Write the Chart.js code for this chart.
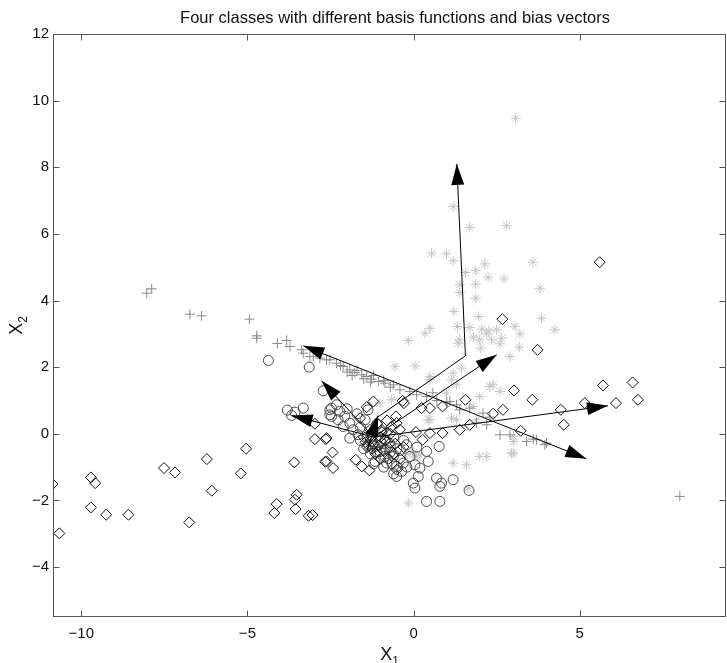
<!DOCTYPE html>
<html lang="en">
<head>
<meta charset="UTF-8">
<title>Four classes with different basis functions and bias vectors</title>
<script src="https://cdn.jsdelivr.net/npm/chart.js@4"></script>
<style>
  body, html { margin: 0; padding: 0; background: #fff; }
  .wrap { width: 727px; height: 663px; }
</style>
</head>
<body>
<div class="wrap"><canvas id="chart" width="727" height="663"></canvas></div>
<script>
const titleText = 'Four classes with different basis functions and bias vectors';
const xTicks = [-10, -5, 0, 5];
const yTicks = [-4, -2, 0, 2, 4, 6, 8, 10, 12];

// class 1: open circles
const circlePts = [
  [-4.37,2.2],[-3.14,2.0],[-2.72,1.29],[-3.8,0.71],[-3.67,0.55],[-3.57,0.65],[-3.32,0.77],
  [-2.52,0.72],[-2.52,0.57],[-2.47,0.77],[-2.32,0.87],[-2.22,0.67],[-2.47,0.52],[-2.27,0.42],
  [-2.07,0.52],[-1.92,0.32],[-2.12,0.22],[-1.82,0.12],[-1.67,-0.03],[-1.92,-0.13],[-1.46,0.42],
  [-1.37,0.72],[-1.26,-0.23],[-1.16,-0.38],[-1.01,-0.53],[-0.86,-0.68],[-0.81,-0.88],[-1.16,-0.83],
  [-0.61,-0.68],[-0.51,-0.98],[-0.36,-1.13],[-0.51,-1.28],[-0.31,-0.88],[-0.11,-0.68],[0.04,-0.93],
  [0.14,-1.28],[-0.01,-1.48],[0.04,-1.63],[0.19,-1.03],[0.39,-0.53],[0.44,-0.83],[0.77,-0.38],
  [0.69,-1.33],[0.84,-1.48],[0.79,-1.58],[1.19,-1.38],[1.67,-1.7],[0.39,-2.03],[0.79,-2.03],
  [-0.86,-0.18],[-0.21,-0.33],[-1.6,0.2],[-1.4,-0.1],[-1.0,-0.2],[-0.7,-0.4],[-0.4,-0.5],
  [-1.3,-0.6],[-0.9,-1.0],[-0.6,-1.2],[-0.2,-1.0],[0.1,-0.4],[-1.7,0.6],[-2.0,0.75],
  [-1.1,0.3],[-0.6,-0.1],[-0.3,-0.2],[-1.35,-0.35],[-1.1,-0.55],[-0.95,-0.3],[-1.5,-0.45],
  [-0.7,-0.55],[-1.25,-0.05],[-0.85,-0.45],[-0.5,-0.45],[-1.6,-0.2],[-1.2,-0.9],[-0.65,-0.9]
];

// class 2: open diamonds
const diamondPts = [
  [-10.86,-1.51],[-10.66,-2.99],[-9.71,-1.31],[-9.58,-1.48],[-9.71,-2.21],[-9.25,-2.43],[-8.58,-2.43],
  [-7.51,-1.03],[-7.18,-1.16],[-6.75,-2.66],[-6.22,-0.76],[-6.07,-1.71],[-5.2,-1.19],[-5.04,-0.45],
  [-4.12,-2.11],[-4.19,-2.38],[-3.59,-0.86],[-3.52,-1.83],[-3.57,-1.98],[-3.55,-2.26],[-3.16,-2.46],
  [-3.04,-2.44],[-2.97,-0.16],[-2.64,-0.16],[-2.66,-0.84],[-2.97,0.3],
  [5.6,5.15],[2.67,3.44],[3.73,2.52],[3.02,1.3],[3.57,1.02],[5.7,1.45],[6.59,1.54],[6.75,1.02],
  [6.09,0.92],[5.15,0.92],[4.43,0.72],[4.52,0.27],[3.22,0.09],[2.69,0.72],[2.39,0.6],[1.56,1.02],
  [1.69,0.27],[1.39,0.12],[0.87,0.02],[0.87,0.82],[0.49,0.02],[0.49,0.77],[0.24,0.77],[0.07,0.05],
  [0.27,-0.18],[-0.29,0.92],[-0.33,0.99],[-0.53,0.52],[-0.51,0.32],[-0.66,0.22],[-0.41,0.12],
  [-0.81,0.04],[-0.96,0.12],[-1.21,0.97],[-1.41,0.8],[-1.61,0.47],[-2.62,-0.13],[-2.44,-0.56],
  [-2.62,-0.83],[-2.42,-1.03],[-1.74,-0.78],[-1.56,-0.98],[-1.33,-1.1],[-1.31,0.12],[-0.71,-0.28],
  [-0.51,-1.08],[-1.2,-0.3],[-1.0,-0.1],[-0.9,-0.5],[-1.4,-0.4],[-0.6,-0.6],[-1.1,0.3],[-0.8,0.4],
  [-0.3,-0.4],[-1.5,-0.1],[-0.7,0.0],[-1.25,-0.45],[-1.05,-0.35],[-0.85,-0.2],[-1.3,-0.15],
  [-0.95,0.05],[-1.15,-0.6],[-0.75,-0.75],[-1.45,-0.25],[-0.55,-0.3],[-1.0,-0.75],[-0.4,-0.75]
];

// class 3: plus signs
const plusPts = [
  [-8.03,4.22],[-7.88,4.35],[-6.73,3.59],[-6.38,3.54],[-4.94,3.44],[-4.72,2.94],[-4.72,2.87],
  [-4.1,2.71],[-3.82,2.8],[-3.72,2.62],[-3.37,2.52],[-3.32,2.42],[-3.02,2.32],[-2.62,2.22],
  [-3.12,2.32],[-2.82,2.27],[-2.52,2.22],[-2.32,2.12],[-2.12,2.02],[-1.92,1.92],[-1.77,1.84],
  [-1.56,1.77],[-1.41,1.72],[-1.26,1.64],[-1.06,1.57],[-0.86,1.52],[-0.61,1.47],[-0.41,1.32],
  [-0.11,1.27],[0.09,1.17],[0.39,1.12],[0.58,1.23],[1.09,0.97],[1.29,0.87],[1.39,0.72],[1.69,0.77],
  [1.89,0.32],[2.09,0.62],[2.2,0.27],[2.6,-0.03],[2.9,-0.03],[3.4,-0.23],[3.6,-0.16],[3.7,-0.18],
  [3.95,-0.33],[4.0,-0.28],[8.01,-1.88],[-2.0,1.85],[-1.7,1.9],[-1.5,1.65],[-1.2,1.75],[-0.9,1.6],
  [-2.2,2.05],[-1.85,1.75],[-1.3,1.55],[-0.7,1.4],[0.7,1.0],[1.0,0.95],[2.3,0.5]
];

// class 4: asterisks
const starPts = [
  [3.07,9.47],[1.19,6.82],[1.69,6.19],[2.8,6.25],[0.54,5.42],[0.99,5.4],[1.19,5.19],[2.14,5.1],
  [1.87,4.9],[1.56,4.84],[2.24,4.7],[2.72,4.65],[3.59,5.15],[1.87,4.49],[1.39,4.47],[3.8,4.37],
  [1.87,4.07],[1.39,4.24],[1.21,3.67],[1.96,3.52],[3.85,3.47],[0.49,3.17],[0.34,3.02],[-0.16,2.8],
  [1.32,3.22],[1.69,3.19],[2.05,3.14],[2.27,3.09],[2.5,3.12],[3.05,3.22],[4.25,3.12],[1.39,2.82],
  [1.99,2.82],[2.35,2.82],[2.65,2.87],[2.02,2.57],[3.18,2.6],[2.9,2.32],[0.04,2.04],[0.49,1.72],
  [1.19,1.82],[1.44,1.97],[1.14,1.62],[2.29,1.42],[2.6,1.27],[0.99,1.22],[1.79,0.82],[1.14,0.47],
  [0.44,0.42],[3.0,-0.23],[3.0,-0.58],[1.99,-0.68],[2.2,-0.68],[1.19,-0.88],[1.59,-0.93],
  [-0.01,-0.63],[0.19,-0.63],[1.34,2.72],[1.8,2.9],[2.2,3.0],[2.6,2.7],[3.2,3.0],[-0.56,2.02],
  [0.49,1.62],[1.29,1.47],[2.39,1.47],[1.99,1.12],[-0.66,1.02],[-1.01,0.92],[1.29,0.42],
  [0.49,0.42],[1.89,0.42],[2.95,-0.58],[3.0,-0.08],[1.64,-1.63],[-0.16,-2.08],[0.0,-0.55],
  [0.1,-0.7],[-0.2,-0.6]
];

// basis / bias vectors: start, end, arrowhead at end?
const arrowStart = [[-1.15,0.45],[1.56,2.34],[-1.2,-0.1],[-1.2,-0.1],[0.94,0.95],[0.94,0.95],[-1.2,-0.1],[-1.2,-0.1],[-1.4,-0.5]];
const arrowEnd   = [[1.56,2.34],[1.3,8.1],[2.5,2.37],[5.85,0.84],[-3.32,2.64],[5.2,-0.75],[-3.67,0.55],[-2.77,1.59],[-1.07,0.55]];
const arrowHead  = [false,true,true,true,true,true,true,true,true];

const toXY = pts => pts.map(p => ({ x: p[0], y: p[1] }));
const fontFam = '"Liberation Sans", Arial, Helvetica, sans-serif';
const fmt = v => (v < 0 ? '\u2212' + Math.abs(v) : String(v));

const arrowSets = arrowStart.map((s, i) => ({
  type: 'line',
  data: toXY([s, arrowEnd[i]]),
  borderColor: '#000',
  borderWidth: 1,
  pointRadius: 0,
  fill: false,
  arrowHead: arrowHead[i],
  order: 0
}));

// filled triangular heads at the end of each arrow
const arrowHeads = {
  id: 'arrowHeads',
  afterDatasetsDraw(chart) {
    const ctx = chart.ctx;
    chart.data.datasets.forEach((ds, i) => {
      if (!ds.arrowHead) return;
      const pts = chart.getDatasetMeta(i).data;
      const a = pts[0], b = pts[1];
      const ang = Math.atan2(b.y - a.y, b.x - a.x);
      ctx.save();
      ctx.translate(b.x, b.y);
      ctx.rotate(ang);
      ctx.beginPath();
      ctx.moveTo(0, 0);
      ctx.lineTo(-21, -6.5);
      ctx.lineTo(-21, 6.5);
      ctx.closePath();
      ctx.fillStyle = '#000';
      ctx.fill();
      ctx.restore();
    });
  }
};

// matlab style box with inward ticks, title and axis labels
const frame = {
  id: 'frame',
  afterDraw(chart) {
    const { ctx, chartArea: a, scales: { x, y } } = chart;
    ctx.save();
    ctx.strokeStyle = '#555';
    ctx.lineWidth = 1;
    const L = a.left + 0.5, R = a.right - 0.5, T = a.top + 0.5, B = a.bottom - 0.5;
    ctx.strokeRect(L, T, R - L, B - T);
    ctx.beginPath();
    xTicks.forEach(v => {
      const px = Math.round(x.getPixelForValue(v)) + 0.5;
      ctx.moveTo(px, B); ctx.lineTo(px, B - 6);
      ctx.moveTo(px, T); ctx.lineTo(px, T + 6);
    });
    yTicks.forEach(v => {
      const py = Math.round(y.getPixelForValue(v)) + 0.5;
      ctx.moveTo(L, py); ctx.lineTo(L + 6, py);
      ctx.moveTo(R, py); ctx.lineTo(R - 6, py);
    });
    ctx.stroke();

    ctx.fillStyle = '#111';
    ctx.font = '16.5px ' + fontFam;
    ctx.textAlign = 'center';
    ctx.textBaseline = 'alphabetic';
    ctx.fillText(titleText, 395, 23);

    // x label  X1
    const cx = (a.left + a.right) / 2;
    ctx.textAlign = 'left';
    ctx.font = '18px ' + fontFam;
    const wX = ctx.measureText('X').width;
    ctx.font = '12px ' + fontFam;
    const w1 = ctx.measureText('1').width;
    let sx = cx - (wX + w1) / 2;
    ctx.font = '18px ' + fontFam;
    ctx.fillText('X', sx, 660);
    ctx.font = '12px ' + fontFam;
    ctx.fillText('1', sx + wX, 665);

    // y label  X2
    const cy = (a.top + a.bottom) / 2;
    ctx.translate(22, cy);
    ctx.rotate(-Math.PI / 2);
    sx = -(wX + w1) / 2;
    ctx.font = '18px ' + fontFam;
    ctx.fillText('X', sx, 0);
    ctx.font = '12px ' + fontFam;
    ctx.fillText('2', sx + wX, 5);
    ctx.restore();
  }
};

new Chart(document.getElementById('chart'), {
  type: 'scatter',
  data: {
    datasets: [
      { data: toXY(starPts), pointStyle: 'star', pointRadius: 5, borderColor: '#c6c6c6', backgroundColor: 'rgba(0,0,0,0)', borderWidth: 1, order: 5 },
      { data: toXY(plusPts), pointStyle: 'cross', pointRadius: 5, borderColor: '#8a8a8a', backgroundColor: 'rgba(0,0,0,0)', borderWidth: 1, order: 4 },
      { data: toXY(circlePts), pointStyle: 'circle', pointRadius: 5, borderColor: '#4a4a4a', backgroundColor: 'rgba(0,0,0,0)', borderWidth: 1, order: 3 },
      { data: toXY(diamondPts), pointStyle: 'rectRot', pointRadius: 5.5, borderColor: '#111', backgroundColor: 'rgba(0,0,0,0)', borderWidth: 1, order: 2 },
      ...arrowSets
    ]
  },
  options: {
    responsive: false,
    animation: false,
    devicePixelRatio: 1,
    layout: { autoPadding: false, padding: { top: 34, right: 1, left: 0, bottom: 0 } },
    plugins: { legend: { display: false }, tooltip: { enabled: false }, title: { display: false } },
    scales: {
      x: {
        type: 'linear', min: -10.85, max: 9.4,
        afterBuildTicks: ax => { ax.ticks = xTicks.map(v => ({ value: v })); },
        afterFit: s => { s.height = 46; },
        grid: { display: false, drawTicks: false }, border: { display: false },
        ticks: { color: '#111', padding: 8, maxRotation: 0, font: { size: 15, family: fontFam }, callback: v => fmt(v) }
      },
      y: {
        type: 'linear', min: -5.5, max: 12,
        afterBuildTicks: ax => { ax.ticks = yTicks.map(v => ({ value: v })); },
        afterFit: s => { s.width = 53; },
        grid: { display: false, drawTicks: false }, border: { display: false },
        ticks: { color: '#111', padding: 4, font: { size: 15, family: fontFam }, callback: v => fmt(v) }
      }
    }
  },
  plugins: [arrowHeads, frame]
});
</script>
</body>
</html>
